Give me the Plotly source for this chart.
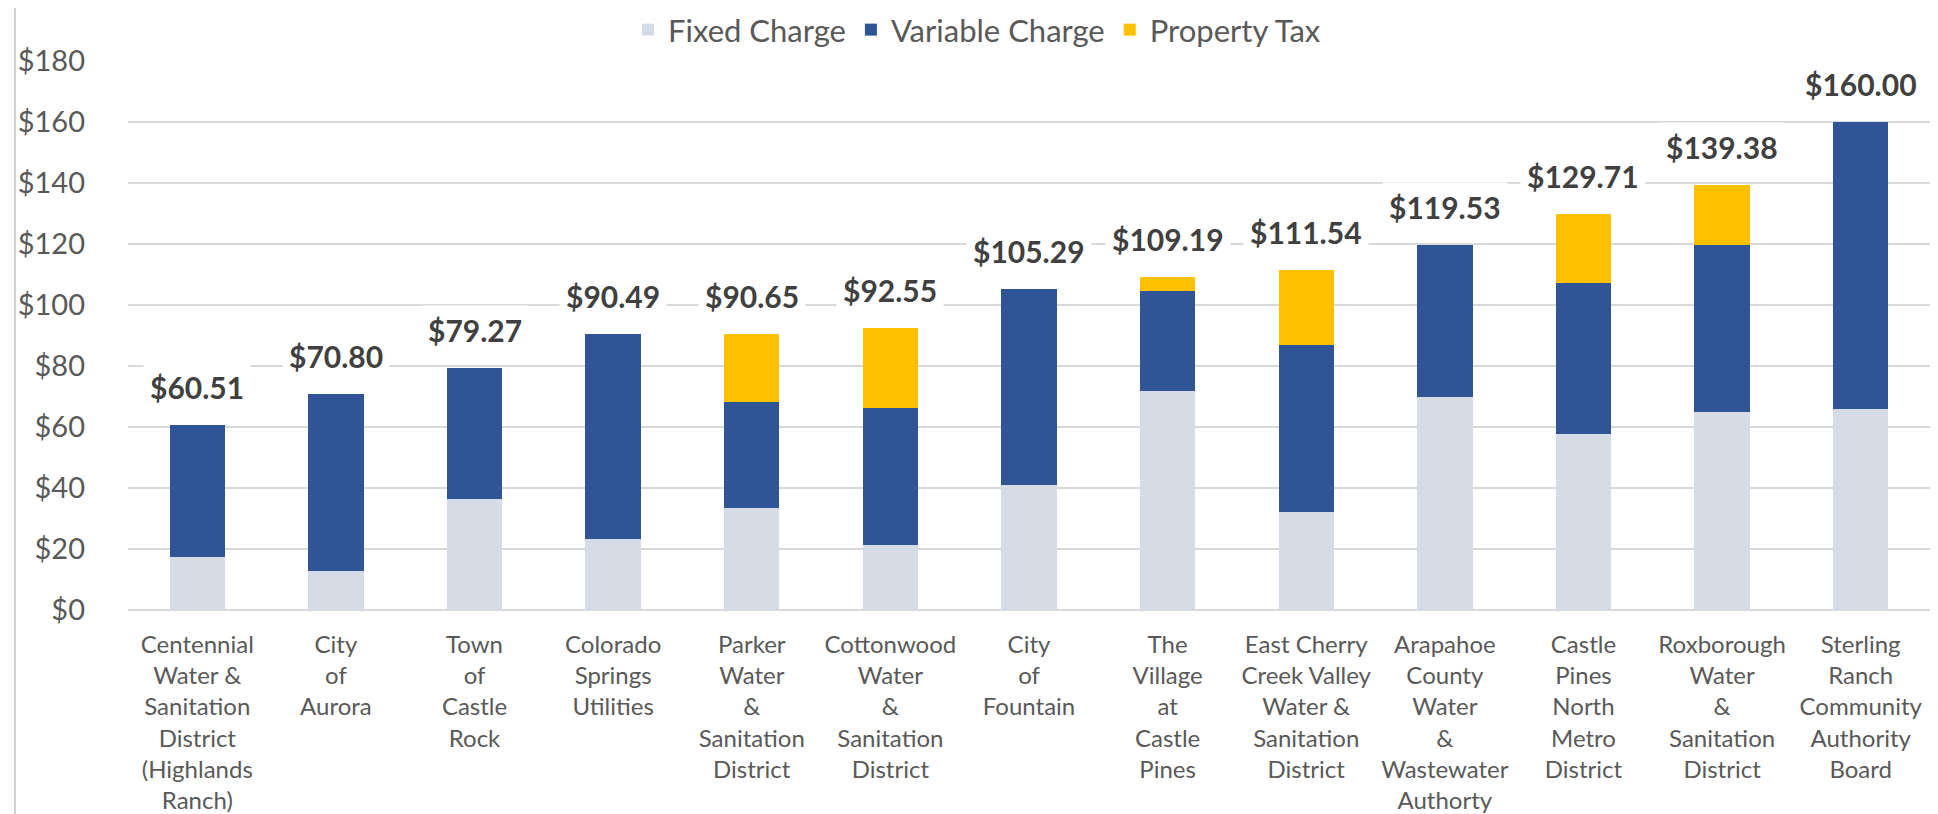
import plotly.graph_objects as go

# ---- data ----
providers = [
    "Centennial<br>Water &<br>Sanitation<br>District<br>(Highlands<br>Ranch)",
    "City<br>of<br>Aurora",
    "Town<br>of<br>Castle<br>Rock",
    "Colorado<br>Springs<br>Utilities",
    "Parker<br>Water<br>&<br>Sanitation<br>District",
    "Cottonwood<br>Water<br>&<br>Sanitation<br>District",
    "City<br>of<br>Fountain",
    "The<br>Village<br>at<br>Castle<br>Pines",
    "East Cherry<br>Creek Valley<br>Water &<br>Sanitation<br>District",
    "Arapahoe<br>County<br>Water<br>&<br>Wastewater<br>Authorty",
    "Castle<br>Pines<br>North<br>Metro<br>District",
    "Roxborough<br>Water<br>&<br>Sanitation<br>District",
    "Sterling<br>Ranch<br>Community<br>Authority<br>Board",
]
fixed_charge = [17.50, 12.90, 36.30, 23.20, 33.60, 21.30, 41.10, 71.80, 32.00, 69.80, 57.60, 64.90, 66.00]
variable_charge = [43.01, 57.90, 42.97, 67.29, 34.70, 44.80, 64.19, 32.70, 55.00, 49.73, 49.60, 54.90, 94.00]
property_tax = [0, 0, 0, 0, 22.35, 26.45, 0, 4.69, 24.54, 0, 22.51, 19.58, 0]
totals = [60.51, 70.80, 79.27, 90.49, 90.65, 92.55, 105.29, 109.19, 111.54, 119.53, 129.71, 139.38, 160.00]
y_ticks = [0, 20, 40, 60, 80, 100, 120, 140, 160, 180]
y_tick_labels = ["$" + str(v) for v in y_ticks]

FONT = "Lato"
AXIS_GREY = "#595959"
LABEL_GREY = "#404040"
GRID = "#D9D9D9"

fig = go.Figure()
fig.add_trace(go.Bar(name="Fixed Charge", x=providers, y=fixed_charge,
                     marker=dict(color="#D6DCE5", line=dict(width=0))))
fig.add_trace(go.Bar(name="Variable Charge", x=providers, y=variable_charge,
                     marker=dict(color="#2F5597", line=dict(width=0))))
fig.add_trace(go.Bar(name="Property Tax", x=providers, y=property_tax,
                     marker=dict(color="#FFC000", line=dict(width=0))))

for cat, tot in zip(providers, totals):
    fig.add_annotation(x=cat, y=tot, xref="x", yref="y", text="${:.2f}".format(tot),
                       showarrow=False, yanchor="middle", yshift=38,
                       font=dict(family=FONT, size=30, color=LABEL_GREY, weight="bold"),
                       bgcolor="white", borderpad=6)

# chart-area frame (left/right edges visible in reference)
for xp in (-0.0627, 1.0028):
    fig.add_shape(type="line", xref="paper", yref="paper", x0=xp, x1=xp, y0=-0.45, y1=1.15,
                  line=dict(color="#D0D0D0", width=2), layer="below")

fig.update_layout(
    barmode="stack",
    bargap=0.6,
    width=1938, height=814,
    margin=dict(l=120, r=16, t=53, b=212, autoexpand=False),
    paper_bgcolor="white", plot_bgcolor="white",
    font=dict(family=FONT, color=AXIS_GREY),
    showlegend=True,
    legend=dict(orientation="h", xref="container", x=0.5, xanchor="center",
                yref="container", y=0.973, yanchor="middle",
                font=dict(family=FONT, size=31, color=AXIS_GREY),
                traceorder="normal", bgcolor="rgba(0,0,0,0)"),
    hovermode=False,
)
fig.update_xaxes(showgrid=False, showline=False, ticks="", tickangle=0, automargin=False,
                 tickfont=dict(family=FONT, size=24, color=AXIS_GREY),
                 ticklabelstandoff=18)
fig.update_yaxes(range=[0, 180], tickvals=y_ticks, ticktext=y_tick_labels, automargin=False,
                 showgrid=True, gridcolor=GRID, gridwidth=2,
                 zeroline=True, zerolinecolor=GRID, zerolinewidth=2,
                 showline=False, ticks="",
                 tickfont=dict(family=FONT, size=29, color=AXIS_GREY),
                 ticklabelstandoff=42)

fig.write_html("out.html")
